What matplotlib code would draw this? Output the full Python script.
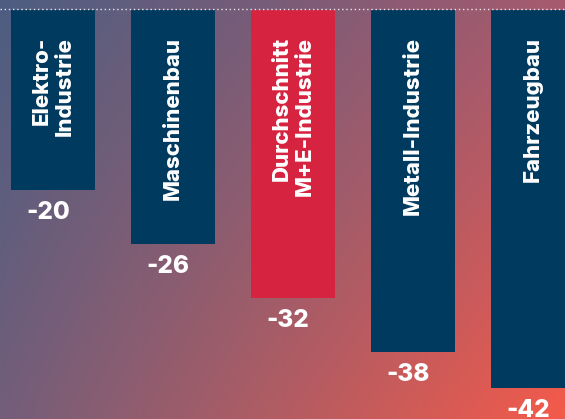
import numpy as np
import matplotlib
matplotlib.use("Agg")
import matplotlib.pyplot as plt
from matplotlib.colors import to_rgb

categories = ["Elektro-\nIndustrie", "Maschinenbau", "Durchschnitt\nM+E-Industrie", "Metall-Industrie", "Fahrzeugbau"]
values = [-20, -26, -32, -38, -42]
value_labels = ["-20", "-26", "-32", "-38", "-42"]
highlight = [False, False, True, False, False]

NAVY = "#003a5e"
RED = "#d52340"

fig = plt.figure(figsize=(5.65, 4.19), dpi=100)
ax = fig.add_axes([0, 0, 1, 1])

xmin, xmax = -53 / 120, (565 - 53) / 120
ymax, ymin = 10 / 9, -409 / 9
ax.set_xlim(xmin, xmax)
ax.set_ylim(ymin, ymax)

# gradient background (bilinear between corners)
TL, TR = np.array(to_rgb("#4c5e82")), np.array(to_rgb("#a85a6e"))
BL, BR = np.array(to_rgb("#735e7a")), np.array(to_rgb("#f45a4a"))
h, w = 200, 300
u = np.linspace(0, 1, w)[None, :, None]
v = np.linspace(0, 1, h)[:, None, None]
top = TL * (1 - u) + TR * u
bot = BL * (1 - u) + BR * u
img = top * (1 - v) + bot * v
ax.imshow(img, extent=[xmin, xmax, ymin, ymax], aspect="auto", zorder=0, interpolation="bilinear")

x = np.arange(len(values))
colors = [RED if hl else NAVY for hl in highlight]
ax.bar(x, values, width=0.7, color=colors, zorder=2)

ax.axhline(0.1, color="white", linestyle=(0, (1, 2)), linewidth=1, alpha=0.85, zorder=3)

font = ["Inter", "DejaVu Sans"]
for xi, (cat, val, lab) in enumerate(zip(categories, values, value_labels)):
    ax.text(xi, -3.0, cat, rotation=90, ha="center", va="top", multialignment="right",
            color="white", fontsize=16, fontweight=800, family=font, linespacing=1.2, zorder=4)
    ax.text(xi - 0.04, val - 2.45, lab, ha="center", va="center", color="white",
            fontsize=17.5, fontweight=800, family=font, zorder=4)

ax.axis("off")
fig.savefig("out.png", dpi=100)
